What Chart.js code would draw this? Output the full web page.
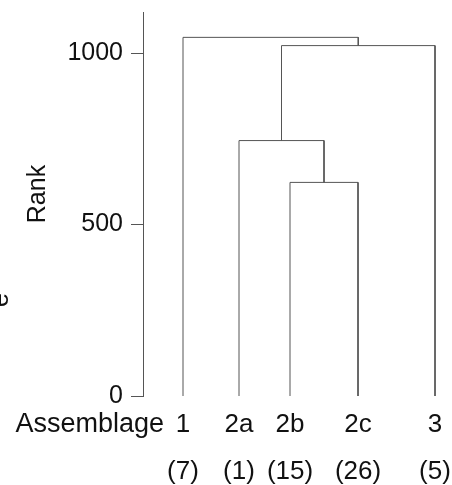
<!DOCTYPE html>
<html>
<head>
<meta charset="utf-8">
<script src="https://cdn.jsdelivr.net/npm/chart.js@4.4.0/dist/chart.umd.min.js"></script>
<style>
html, body { margin:0; padding:0; background:#fff; }
#wrap { width:452px; height:485px; }
</style>
</head>
<body>
<div id="wrap"><canvas id="dendro"></canvas></div>
<script>
// leaves, left to right
var leafNames = ["1", "2a", "2b", "2c", "3"];
var leafCounts = ["(7)", "(1)", "(15)", "(26)", "(5)"];
var leafPos = [0.8, 1.92, 2.94, 4.3, 5.84];

// merges in order: nodes 0-4 are the leaves, merge i becomes node 5+i
var mergeLeft = [2, 1, 6, 0];
var mergeRight = [3, 5, 4, 7];
var mergeRank = [623, 745, 1022, 1046];

var rankTicks = [0, 500, 1000];

var lineColor = "#555";
var textColor = "#111";
var fontFamily = "'Liberation Sans', Arial, sans-serif";

function buildLinks(){
    var nodeX = leafPos.slice();
    var nodeH = leafPos.map(function(){ return 0; });
    var sets = [];
    for (var i = 0; i < mergeRank.length; i++){
        var l = mergeLeft[i], r = mergeRight[i], h = mergeRank[i];
        sets.push({
            data: [
                {x: nodeX[l], y: nodeH[l]},
                {x: nodeX[l], y: h},
                {x: nodeX[r], y: h},
                {x: nodeX[r], y: nodeH[r]}
            ],
            showLine: true,
            borderColor: lineColor,
            borderWidth: 1,
            pointRadius: 0,
            fill: false
        });
        nodeX.push((nodeX[l] + nodeX[r]) / 2);
        nodeH.push(h);
    }
    return sets;
}

var extraText = {
    id: "extraText",
    afterDraw: function(chart){
        var ctx = chart.ctx;
        var xs = chart.scales.x;
        ctx.save();
        ctx.fillStyle = textColor;
        // row label next to the leaf names
        ctx.font = "27px " + fontFamily;
        ctx.textAlign = "right";
        ctx.textBaseline = "middle";
        ctx.fillText("Assemblage", 164, xs.top + 5 + 24);
        // y axis title
        ctx.font = "25px " + fontFamily;
        ctx.save();
        ctx.translate(45, 194);
        ctx.rotate(-Math.PI / 2);
        ctx.textAlign = "center";
        ctx.textBaseline = "alphabetic";
        ctx.fillText("Rank", 0, 0);
        ctx.restore();
        // clipped letter at the left edge
        ctx.save();
        ctx.translate(8, 300);
        ctx.rotate(-Math.PI / 2);
        ctx.textAlign = "center";
        ctx.textBaseline = "alphabetic";
        ctx.fillText("e", 0, 0);
        ctx.restore();
        ctx.restore();
    }
};

new Chart(document.getElementById("dendro"), {
    type: "scatter",
    data: { datasets: buildLinks() },
    options: {
        responsive: true,
        maintainAspectRatio: false,
        animation: false,
        layout: { padding: { top: 12, right: 9, left: 0, bottom: 0 } },
        plugins: {
            legend: { display: false },
            tooltip: { enabled: false }
        },
        scales: {
            x: {
                type: "linear",
                min: 0,
                max: 6,
                grid: { display: false, drawTicks: false },
                border: { display: false },
                afterBuildTicks: function(axis){
                    axis.ticks = leafPos.map(function(v){ return {value: v}; });
                },
                afterFit: function(s){
                    s.height = 89;
                    s.paddingLeft = 0;
                    s.paddingRight = 0;
                },
                ticks: {
                    autoSkip: false,
                    maxRotation: 0,
                    padding: 5,
                    color: textColor,
                    font: { size: 26, family: fontFamily, lineHeight: 1.82 },
                    callback: function(v, i){ return [leafNames[i], leafCounts[i]]; }
                }
            },
            y: {
                min: 0,
                max: 1120,
                grid: { display: true, drawOnChartArea: false, drawTicks: true, tickLength: 12, color: lineColor },
                border: { display: true, color: lineColor, width: 1 },
                afterBuildTicks: function(axis){
                    axis.ticks = rankTicks.map(function(v){ return {value: v}; });
                },
                afterFit: function(s){
                    s.width = 143;
                    s.paddingTop = 0;
                    s.paddingBottom = 0;
                },
                ticks: {
                    padding: 8,
                    color: textColor,
                    font: { size: 25, family: fontFamily },
                    callback: function(v){ return String(v); }
                }
            }
        }
    },
    plugins: [extraText]
});
</script>
</body>
</html>
